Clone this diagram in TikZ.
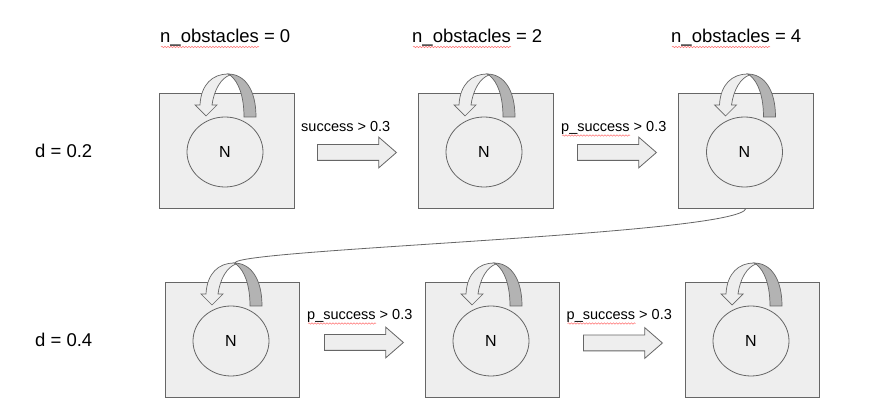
\documentclass[tikz,border=0pt]{standalone}
\usepackage{fontspec}
\setmainfont{Liberation Sans}
\usetikzlibrary{shapes.arrows,shapes.geometric,decorations.pathmorphing}
\definecolor{boxfill}{HTML}{EEEEEE}
\definecolor{edge}{HTML}{666666}
\definecolor{band}{HTML}{B3B3B3}
\begin{document}
\begin{tikzpicture}[x=1pt,y=-1pt,
 state/.style={draw=edge, fill=boxfill, line width=0.8pt, minimum width=135pt, minimum height=115pt, inner sep=0},
 nodeell/.style={ellipse, draw=edge, fill=boxfill, line width=0.8pt, minimum width=76pt, minimum height=70pt, inner sep=0, font=\fontsize{16}{16}\selectfont},
 hdr/.style={anchor=base west, inner sep=0, font=\fontsize{18.5}{20}\selectfont},
 lbl/.style={anchor=base west, inner sep=0, font=\fontsize{14.5}{16}\selectfont},
 blockarrow/.style={single arrow, anchor=tail, draw=edge, fill=boxfill, line width=0.8pt, minimum height=79pt, inner xsep=0pt, inner ysep=7.5pt, single arrow head extend=7.5pt, single arrow tip angle=82},
 squig/.style={draw=red!55, line width=0.5pt, decorate, decoration={snake, segment length=3pt, amplitude=0.7pt}},
 conn/.style={draw=edge, line width=0.8pt},
 selfloop/.pic={
  \filldraw[draw=edge, fill=band, line width=0.7pt] (3,-78) .. controls (20,-78) and (31,-62) .. (31,-35) -- (19,-35) .. controls (19,-55) and (14,-70) .. (5,-77) -- cycle;
  \filldraw[draw=edge, fill=boxfill, line width=0.7pt] (3,-78) .. controls (-12,-78) and (-24,-68) .. (-25,-47) -- (-30,-47) -- (-19,-36) -- (-8,-47) -- (-13,-47) .. controls (-11,-62) and (-4,-74) .. (5,-77) -- cycle;
  \coordinate (-top) at (4,-78);
 }]
\useasboundingbox (0,0) rectangle (889,411);
\fill[white] (0,0) rectangle (889,411);

% headers
\node[hdr] (h1) at (160,42.5) {n\_obstacles = 0};
\node[hdr] (h2) at (412,42.5) {n\_obstacles = 2};
\node[hdr] (h3) at (671,42.5) {n\_obstacles = 4};
\node[hdr] (d1) at (35,157.5) {d = 0.2};
\node[hdr] (d2) at (35,346.5) {d = 0.4};
\foreach \h in {h1,h2,h3} \path[squig] ([shift={(1pt,-4.5pt)}]\h.base west) -- ++(98,0);

% boxes
\node[state] (b1) at (226.5,150.5) {};
\node[state] (b2) at (485.5,150.5) {};
\node[state] (b3) at (746,150.5) {};
\node[state, minimum width=134pt] (b4) at (232,339.5) {};
\node[state, minimum width=134pt] (b5) at (492,339.5) {};
\node[state, minimum width=134pt] (b6) at (752,339.5) {};

% states
\node[nodeell] (e1) at (225,152) {N};
\node[nodeell] (e2) at (484,152) {N};
\node[nodeell] (e3) at (744.5,152) {N};
\node[nodeell] (e4) at (231,341) {N};
\node[nodeell] (e5) at (491,341) {N};
\node[nodeell] (e6) at (751,341) {N};

% self loops
\pic (L1) at (e1.center) {selfloop};
\pic (L2) at (e2.center) {selfloop};
\pic (L3) at (e3.center) {selfloop};
\pic (L4) at (e4.center) {selfloop};
\pic (L5) at (e5.center) {selfloop};
\pic (L6) at (e6.center) {selfloop};

% block arrows
\node[blockarrow] (a1) at (317,152.5) {};
\node[blockarrow] (a2) at (577,152.5) {};
\node[blockarrow] (a3) at (324,342.5) {};
\node[blockarrow] (a4) at (583,343) {};

% arrow labels
\node[lbl] (l1) at (301,132) {success > 0.3};
\node[lbl] (l2) at (561,132) {p\_success > 0.3};
\node[lbl] (l3) at (307,320) {p\_success > 0.3};
\node[lbl] (l4) at (566.5,320) {p\_success > 0.3};
\foreach \l in {l2,l3,l4} \path[squig] ([shift={(1pt,-3.5pt)}]\l.base west) -- ++(68,0);

% connector
\draw[conn] (b3.south) .. controls ([shift={(-5pt,-26pt)}]b3.south) and ([shift={(-2pt,14pt)}]L4-top) .. (L4-top);
\end{tikzpicture}
\end{document}
